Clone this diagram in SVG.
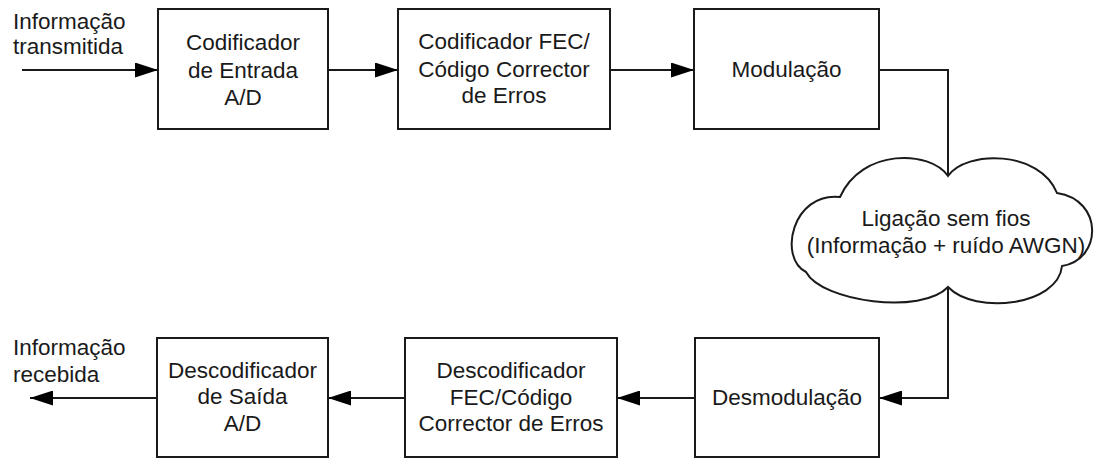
<svg xmlns="http://www.w3.org/2000/svg" width="1098" height="459" viewBox="0 0 1098 459">
  <style>
    .box { fill: #ffffff; stroke: #1a1a1a; stroke-width: 2; }
    .wire { fill: none; stroke: #1a1a1a; stroke-width: 2; }
    text { font-family: "Liberation Sans", Arial, sans-serif; font-size: 22.5px; fill: #1a1a1a; }
    .c { text-anchor: middle; }
  </style>
  <defs>
    <marker id="arrow" viewBox="0 0 23 15" refX="23" refY="7.5" markerWidth="23" markerHeight="15" markerUnits="userSpaceOnUse" orient="auto">
      <path d="M0,0 L23,7.5 L0,15 Z" fill="#000000"/>
    </marker>
  </defs>
  <rect width="1098" height="459" fill="#ffffff"/>

  <!-- connectors -->
  <g id="connectors">
    <line class="wire" x1="22" y1="70" x2="158" y2="70" marker-end="url(#arrow)"/>
    <line class="wire" x1="328" y1="70" x2="398" y2="70" marker-end="url(#arrow)"/>
    <line class="wire" x1="610" y1="70" x2="694" y2="70" marker-end="url(#arrow)"/>
    <polyline class="wire" points="879,70 948,70 948,176"/>
    <polyline class="wire" points="948,287 948,398 879,398" marker-end="url(#arrow)"/>
    <line class="wire" x1="695" y1="398" x2="617" y2="398" marker-end="url(#arrow)"/>
    <line class="wire" x1="405" y1="398" x2="328" y2="398" marker-end="url(#arrow)"/>
    <line class="wire" x1="157" y1="398" x2="30" y2="398" marker-end="url(#arrow)"/>
  </g>

  <!-- free labels -->
  <g id="label-in">
    <text x="13" y="29">Informação</text>
    <text x="13" y="54">transmitida</text>
  </g>
  <g id="label-out">
    <text x="13" y="355">Informação</text>
    <text x="13" y="382">recebida</text>
  </g>

  <!-- transmitter chain -->
  <g id="encoder-ad">
    <rect class="box" x="158" y="9" width="170" height="120"/>
    <text class="c" x="243" y="50">Codificador</text>
    <text class="c" x="243" y="78">de Entrada</text>
    <text class="c" x="243" y="105">A/D</text>
  </g>
  <g id="encoder-fec">
    <rect class="box" x="398" y="9" width="212" height="120"/>
    <text class="c" x="504" y="49">Codificador FEC/</text>
    <text class="c" x="504" y="77">Código Corrector</text>
    <text class="c" x="504" y="103">de Erros</text>
  </g>
  <g id="modulation">
    <rect class="box" x="694" y="9" width="185" height="120"/>
    <text class="c" x="786.5" y="77">Modulação</text>
  </g>

  <!-- channel -->
  <g id="channel">
    <path class="box" d="M948,176 C930,150 862,148 840,197 C792,192 778,258 806,272 C822,302 922,315 948,287 C975,315 1058,306 1062,266 C1102,260 1104,200 1057,193 C1040,150 966,150 948,176 Z"/>
    <text class="c" x="946" y="226">Ligação sem fios</text>
    <text class="c" x="946" y="253">(Informação + ruído AWGN)</text>
  </g>

  <!-- receiver chain -->
  <g id="demodulation">
    <rect class="box" x="695" y="338" width="184" height="119"/>
    <text class="c" x="787" y="405">Desmodulação</text>
  </g>
  <g id="decoder-fec">
    <rect class="box" x="405" y="338" width="212" height="119"/>
    <text class="c" x="511" y="378">Descodificador</text>
    <text class="c" x="511" y="405">FEC/Código</text>
    <text class="c" x="511" y="431">Corrector de Erros</text>
  </g>
  <g id="decoder-ad">
    <rect class="box" x="157" y="338" width="171" height="119"/>
    <text class="c" x="242.5" y="378">Descodificador</text>
    <text class="c" x="242.5" y="404">de Saída</text>
    <text class="c" x="242.5" y="431">A/D</text>
  </g>
</svg>
